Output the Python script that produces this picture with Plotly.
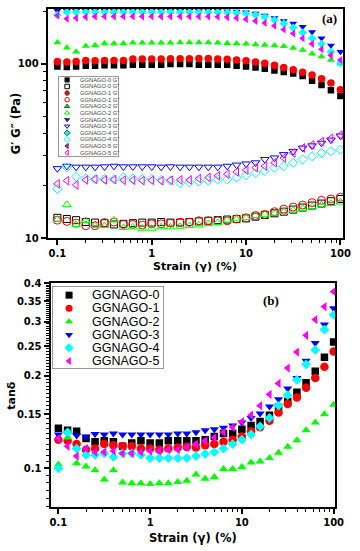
import math
import plotly.graph_objects as go

W, H = 360, 551

strain = [0.1, 0.126, 0.158, 0.2, 0.251, 0.316, 0.398, 0.501, 0.631, 0.794,
          1, 1.26, 1.58, 2, 2.51, 3.16, 3.98, 5.01, 6.31, 7.94,
          10, 12.6, 15.8, 20, 25.1, 31.6, 39.8, 50.1, 63.1, 79.4, 100]

names = ["GGNAGO-0", "GGNAGO-1", "GGNAGO-2", "GGNAGO-3", "GGNAGO-4", "GGNAGO-5"]
colors = ["#000000", "#ff0000", "#00ff00", "#0000ff", "#00ffff", "#ff00ff"]
symbols = ["square", "circle", "triangle-up", "triangle-down", "diamond", "triangle-left"]

# storage modulus G' (Pa)
g0_storage = [96.5, 95.7, 96.5, 97.5, 97.5, 97.9, 97.9, 97.9, 98.6, 98.6,
              98.6, 98.6, 99.6, 99.6, 99.6, 98.6, 98.6, 98.6, 98.6, 97.5,
              96.5, 95.3, 93.7, 91.6, 89.6, 88, 85, 80, 75.5, 70.4, 65.4]
g1_storage = [103, 102.3, 103, 104.3, 104, 104.3, 104.3, 104.3, 106.3, 106.3,
              106.3, 106.3, 106.7, 106.7, 106.7, 107, 107, 106.5, 106, 105,
              104, 102.3, 100.5, 98, 95.3, 92.4, 89.3, 86.3, 82, 77.5, 71]
g2_storage = [132.5, 123.6, 117, 126.5, 127.7, 130.7, 130.7, 130.7, 131.8, 131.8,
              132, 132, 132, 132.5, 132.5, 132.5, 132.5, 132, 131, 130.5,
              130, 129, 128, 127, 126, 123, 120, 114, 110, 105, 100]
g3_storage = [201, 201, 201, 201, 201, 201, 201, 201, 201, 201,
              201, 201, 201, 201, 201, 201, 201, 201, 200, 199,
              197, 194, 189, 183, 176, 170, 163, 152, 140, 127, 117]
g4_storage = [190, 198, 198, 198, 198, 198, 198, 198, 198, 198,
              198, 198, 198, 198, 198, 198, 198, 198, 197, 196,
              194, 191, 186, 178, 170, 161, 151, 140, 130, 117, 101]
g5_storage = [189, 181, 183, 185, 186.5, 186.5, 186.5, 186.5, 186.5, 186.5,
              186.5, 186.5, 186.5, 186.5, 186.5, 186.5, 186.5, 186, 185, 183,
              180, 176, 171, 165, 157, 149, 140, 130, 121, 112, 105]

# loss modulus G'' (Pa)
g0_loss = [13.1, 12.9, 12.7, 12.4, 12.3, 12.2, 12.0, 12.1, 12.2, 12.3,
           12.3, 12.4, 12.3, 12.3, 12.4, 12.5, 12.6, 12.7, 12.8, 12.9,
           13.0, 13.3, 13.6, 13.9, 14.2, 14.6, 15.0, 15.4, 15.8, 16.3, 16.8]
g1_loss = [12.7, 12.5, 12.2, 11.8, 11.8, 12.3, 12.4, 12.0, 12.0, 11.9,
           12.1, 12.1, 12.2, 12.35, 12.35, 12.6, 12.6, 12.6, 12.6, 12.9,
           13.1, 13.5, 13.7, 14.2, 14.7, 15.1, 15.5, 16.0, 16.5, 16.8, 17.2]
g2_loss = [12.8, 15.6, 12.0, 12.6, 11.8, 11.8, 12.7, 11.5, 11.6, 11.4,
           11.4, 11.6, 11.6, 11.7, 11.8, 11.9, 12.1, 12.3, 12.7, 12.9,
           13.1, 13.5, 13.7, 13.9, 14.2, 14.5, 14.8, 15.1, 15.5, 15.8, 16.1]
g3_loss = [25.1, 25.9, 25.6, 25.6, 25.6, 25.7, 25.9, 25.7, 25.7, 25.7,
           25.7, 25.6, 25.7, 25.6, 25.6, 25.6, 25.6, 25.6, 25.9, 26.3,
           26.7, 27.1, 28.3, 28.9, 30.2, 31.5, 32.9, 33.9, 35.1, 36.6, 38.6]
g4_loss = [19.2, 25.5, 22.5, 22.0, 21.8, 21.9, 21.8, 22.3, 22.0, 21.8,
           21.8, 21.6, 21.4, 20.7, 20.9, 21.2, 21.4, 21.7, 21.8, 22.3,
           23.0, 23.6, 24.3, 25.4, 25.9, 27.1, 28.3, 29.5, 30.8, 31.5, 32.2]
g5_loss = [20.5, 21.4, 20.2, 21.6, 21.8, 21.6, 21.7, 21.5, 21.5, 21.4,
           21.5, 21.4, 21.5, 21.6, 21.6, 22.0, 22.3, 22.8, 23.3, 24.0,
           24.6, 25.4, 25.9, 27.1, 28.9, 30.8, 32.9, 34.3, 35.8, 37.4, 39.0]

# loss factor tan(delta)
tan0 = [0.135, 0.133, 0.132, 0.125, 0.122, 0.123, 0.122, 0.118, 0.121, 0.123,
        0.121, 0.121, 0.123, 0.123, 0.123, 0.123, 0.124, 0.127, 0.130, 0.130,
        0.134, 0.138, 0.142, 0.149, 0.158, 0.165, 0.177, 0.190, 0.207, 0.230, 0.258]
tan1 = [0.124, 0.123, 0.120, 0.115, 0.116, 0.120, 0.119, 0.118, 0.118, 0.116,
        0.116, 0.115, 0.116, 0.117, 0.1175, 0.117, 0.119, 0.120, 0.122, 0.124,
        0.127, 0.132, 0.136, 0.143, 0.152, 0.162, 0.170, 0.183, 0.197, 0.214, 0.240]
tan2 = [0.103, 0.126, 0.104, 0.1015, 0.0986, 0.092, 0.0986, 0.090, 0.0894, 0.0894,
        0.0889, 0.0894, 0.0894, 0.0903, 0.0912, 0.0955, 0.0925, 0.0938, 0.0995, 0.0995,
        0.101, 0.1045, 0.1053, 0.108, 0.1125, 0.1175, 0.1235, 0.133, 0.141, 0.150, 0.161]
tan3 = [0.129, 0.130, 0.128, 0.127, 0.1295, 0.129, 0.130, 0.129, 0.129, 0.129,
        0.129, 0.129, 0.129, 0.130, 0.130, 0.131, 0.133, 0.134, 0.1355, 0.138,
        0.141, 0.146, 0.151, 0.159, 0.168, 0.182, 0.197, 0.224, 0.256, 0.294, 0.332]
tan4 = [0.100, 0.131, 0.116, 0.1106, 0.1106, 0.112, 0.109, 0.112, 0.112, 0.1106,
        0.108, 0.108, 0.108, 0.108, 0.108, 0.1097, 0.1114, 0.113, 0.116, 0.120,
        0.124, 0.129, 0.137, 0.146, 0.160, 0.173, 0.194, 0.218, 0.243, 0.283, 0.316]
tan5 = [0.125, 0.118, 0.1097, 0.116, 0.113, 0.113, 0.114, 0.112, 0.112, 0.113,
        0.114, 0.114, 0.115, 0.115, 0.117, 0.120, 0.123, 0.126, 0.131, 0.136,
        0.142, 0.149, 0.160, 0.174, 0.189, 0.212, 0.239, 0.271, 0.305, 0.336, 0.376]

storage = [g0_storage, g1_storage, g2_storage, g3_storage, g4_storage, g5_storage]
loss = [g0_loss, g1_loss, g2_loss, g3_loss, g4_loss, g5_loss]
tan_delta = [tan0, tan1, tan2, tan3, tan4, tan5]

sym_size = {"square": 6.5, "circle": 7.5, "triangle-up": 7, "triangle-down": 7,
            "diamond": 6.5, "triangle-left": 7}

BOLD = dict(family="DejaVu Sans", color="black", weight="bold")


def fx(p):
    return p / W


def fy(p):
    return 1 - p / H


fig = go.Figure()

# panel (a): G' filled, G'' open
for k in range(6):
    s = symbols[k]
    fig.add_trace(go.Scatter(x=strain, y=storage[k], mode="markers", xaxis="x", yaxis="y",
                             marker=dict(symbol=s, size=sym_size[s], color=colors[k], line=dict(width=0)),
                             showlegend=False))
    fig.add_trace(go.Scatter(x=strain, y=loss[k], mode="markers", xaxis="x", yaxis="y",
                             marker=dict(symbol=s + "-open", size=sym_size[s] + 0.5, color=colors[k],
                                         line=dict(width=1)),
                             showlegend=False))

# panel (b): tan delta
for k in range(6):
    s = symbols[k]
    fig.add_trace(go.Scatter(x=strain, y=tan_delta[k], mode="markers", xaxis="x2", yaxis="y2",
                             marker=dict(symbol=s, size=sym_size[s] + 1, color=colors[k], line=dict(width=0)),
                             showlegend=False))

# legend keys (a)
leg_a_sym, leg_a_col, leg_a_txt = [], [], []
for k in range(6):
    leg_a_sym += [symbols[k], symbols[k] + "-open"]
    leg_a_col += [colors[k], colors[k]]
    leg_a_txt += [names[k] + " G'", names[k] + ' G"']
rows_a = list(range(len(leg_a_txt)))
fig.add_trace(go.Scatter(x=[8] * len(rows_a), y=rows_a, mode="markers", xaxis="x3", yaxis="y3",
                         marker=dict(symbol=leg_a_sym, color=leg_a_col, size=4.5, line=dict(width=1)),
                         showlegend=False, cliponaxis=False))

rows_b = list(range(len(names)))
fig.add_trace(go.Scatter(x=[17] * len(rows_b), y=rows_b, mode="markers", xaxis="x4", yaxis="y4",
                         marker=dict(symbol=symbols, color=colors, size=7, line=dict(width=0)),
                         showlegend=False, cliponaxis=False))

annotations = []
for i, t in enumerate(leg_a_txt):
    annotations.append(dict(x=19, y=i, xref="x3", yref="y3", text=t, showarrow=False,
                            xanchor="left", yanchor="middle",
                            font=dict(family="Liberation Sans", size=5.8, color="#444444")))
for i, t in enumerate(names):
    annotations.append(dict(x=39, y=i, xref="x4", yref="y4", text=t, showarrow=False,
                            xanchor="left", yanchor="middle",
                            font=dict(family="Liberation Sans", size=12.5, color="black")))

centered = dict(xref="paper", yref="paper", showarrow=False, xanchor="center", yanchor="middle")
annotations += [
    dict(x=fx(338), y=fy(13), text="<b>(a)</b>",
         font=dict(family="Liberation Serif", size=13, color="black"), **centered),
    dict(x=fx(278), y=fy(300), text="<b>(b)</b>",
         font=dict(family="Liberation Serif", size=13, color="black"), **centered),
    dict(x=fx(200), y=fy(266), text="Strain (γ) (%)", font=dict(size=11, **BOLD), **centered),
    dict(x=fx(197), y=fy(543), text="Strain (γ) (%)", font=dict(size=11.5, **BOLD), **centered),
    dict(x=fx(15), y=fy(120), text="G′ G″ (Pa)", textangle=-90, font=dict(size=11.5, **BOLD), **centered),
    dict(x=fx(10), y=fy(397), text="tanδ", textangle=-90, font=dict(size=11, **BOLD), **centered),
]

decade_minor = [m * 10 ** e for e in (-1, 0, 1) for m in range(2, 10)]
tick_font = dict(size=10, **BOLD)

axis_common = dict(showline=True, linewidth=2, linecolor="black", mirror=True, showgrid=False,
                   zeroline=False, ticks="outside", ticklen=5, tickwidth=1.5, tickcolor="black",
                   tickfont=tick_font, type="log")

x_ticks = dict(tickmode="array", tickvals=[0.1, 1, 10, 100], ticktext=["0.1", "1", "10", "100"],
               minor=dict(tickmode="array", tickvals=decade_minor, ticks="outside", ticklen=3,
                          tickwidth=1.2, tickcolor="black"))

tan_major = [0.1, 0.15, 0.2, 0.25, 0.3, 0.35, 0.4]
tan_minor = [round(0.075 + 0.005 * i, 3) for i in range(66)]

legend_axis = dict(showline=True, linewidth=1, linecolor="#999999", mirror=True, showgrid=False,
                   zeroline=False, showticklabels=False, ticks="", fixedrange=True)

fig.update_layout(
    width=W, height=H, autosize=False,
    margin=dict(l=0, r=0, t=0, b=0),
    paper_bgcolor="white", plot_bgcolor="white",
    showlegend=False,
    xaxis=dict(domain=[fx(48), fx(352)], range=[-1.103, 2.03], anchor="y", **axis_common, **x_ticks),
    yaxis=dict(domain=[fy(237), fy(3)], range=[1, 2.314], anchor="x", **axis_common,
               tickmode="array", tickvals=[10, 100], ticktext=["10", "100"],
               minor=dict(tickmode="array", tickvals=[20, 30, 40, 50, 60, 70, 80, 90, 200],
                          ticks="outside", ticklen=3, tickwidth=1.2, tickcolor="black")),
    xaxis2=dict(domain=[fx(51), fx(344)], range=[-1.085, 2.02], anchor="y2", **axis_common, **x_ticks),
    yaxis2=dict(domain=[fy(511), fy(283)], range=[math.log10(0.075), math.log10(0.4)], anchor="x2",
                **axis_common, tickmode="array", tickvals=tan_major,
                ticktext=[f"{v:g}" for v in tan_major],
                minor=dict(tickmode="array", tickvals=tan_minor, ticks="outside", ticklen=2.5,
                           tickwidth=1, tickcolor="black")),
    xaxis3=dict(domain=[fx(60), fx(120)], range=[0, 60], anchor="y3", **legend_axis),
    yaxis3=dict(domain=[fy(153), fy(72)], range=[len(rows_a) - 0.5, -0.5], anchor="x3", **legend_axis),
    xaxis4=dict(domain=[fx(53), fx(167)], range=[0, 114], anchor="y4", **legend_axis),
    yaxis4=dict(domain=[fy(369), fy(287)], range=[5.5, -0.6], anchor="x4", **legend_axis),
    annotations=annotations,
)

# the page body keeps an 8px default margin; drop it so the figure fills the window
fig.write_html("out.html",
               config={"displayModeBar": False, "responsive": False, "showTips": False},
               post_script="document.body.style.margin='0';"
                           "document.body.style.overflow='hidden';")
